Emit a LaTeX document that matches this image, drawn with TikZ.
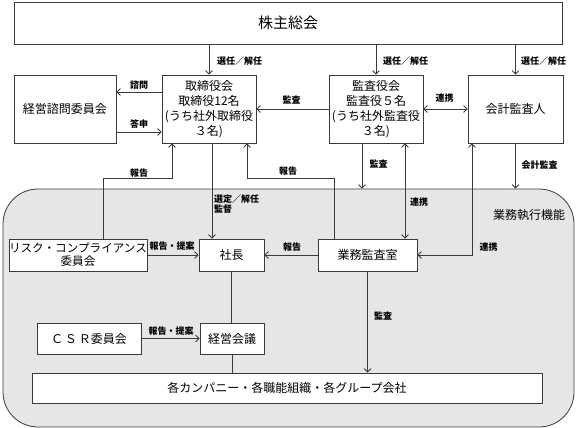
\documentclass[tikz,border=0pt]{standalone}
\usepackage{fontspec}
\setmainfont{Noto Sans CJK JP}
\usetikzlibrary{arrows.meta}
\definecolor{ln}{HTML}{3A3A3A}
\definecolor{regfill}{HTML}{E6E6E6}
\tikzset{
  box/.style={draw=ln, line width=0.8pt, fill=white, align=center, inner sep=0pt,
    font=\fontsize{12}{15}\selectfont},
  lab/.style={font=\fontsize{9}{10.5}\selectfont\bfseries, inner sep=0pt, text=black},
  con/.style={draw=ln, line width=0.8pt},
  arr/.style={con, -{Straight Barb[length=3.5pt,width=7pt]}},
  darr/.style={con, {Straight Barb[length=3.5pt,width=7pt]}-{Straight Barb[length=3.5pt,width=7pt]}},
}
\begin{document}
\begin{tikzpicture}[x=1pt,y=-1pt]
\useasboundingbox (0,0) rectangle (576,428);
% region
\node[draw=ln, line width=0.8pt, fill=regfill, rounded corners=35pt, minimum width=571pt, minimum height=238pt, inner sep=0pt] (region) at (288.5,308) {};
\node[lab, font=\fontsize{12}{14}\selectfont] (regl) at (529,215) {業務執行機能};

% top row
\node[box, minimum width=548pt, minimum height=42pt, font=\fontsize{15}{18}\selectfont] (share) at (288,23) {株主総会};
\node[box, minimum width=102pt, minimum height=68pt] (adv) at (65,109) {経営諮問委員会};
\node[box, minimum width=94pt, minimum height=68pt] (board) at (209,109) {取締役会\\取締役12名\\(うち社外取締役\\３名)};
\node[box, minimum width=94pt, minimum height=68pt] (kansa) at (376,109) {監査役会\\監査役５名\\(うち社外監査役\\３名)};
\node[box, minimum width=95pt, minimum height=68pt] (aud) at (515.5,109) {会計監査人};

% middle row
\node[box, minimum width=132pt, minimum height=32pt, font=\fontsize{11.6}{13}\selectfont] (risk) at (78,255) {リスク・コンプライアンス\\委員会};
\node[box, minimum width=65pt, minimum height=32pt] (pres) at (231.5,255) {社長};
\node[box, minimum width=99pt, minimum height=32pt] (ia) at (367.5,255) {業務監査室};

% lower rows
\node[box, minimum width=104pt, minimum height=31pt] (csr) at (89,338.5) {Ｃ\,Ｓ\,Ｒ委員会};
\node[box, minimum width=64pt, minimum height=31pt] (mgmt) at (232,338.5) {経営会議};
\node[box, minimum width=510pt, minimum height=30pt] (comp) at (287,388) {各カンパニー・各職能組織・各グループ会社};

% helper coordinates
\coordinate (cR1) at (103,178);
\coordinate (cR2) at (172,178);
\coordinate (cI1) at (334,178);
\coordinate (cI2) at (247,178);
\coordinate (cB) at (212,0);
\coordinate (cK) at (362,0);
\coordinate (cL) at (405,0);
\coordinate (cA) at (472,0);

% shareholders -> top row
\draw[arr] (share.south -| board) -- (board.north);
\draw[arr] (share.south -| kansa) -- (kansa.north);
\draw[arr] (share.south -| aud) -- (aud.north);
\node[lab, anchor=west] (l1) at (217,61) {選任／解任};
\node[lab, anchor=west] (l2) at (383,61) {選任／解任};
\node[lab, anchor=west] (l3) at (521,61) {選任／解任};

% board <-> advisory
\draw[arr] ([yshift=17pt]board.west) -- ([yshift=17pt]adv.east);
\draw[arr] ([yshift=-23pt]adv.east) -- ([yshift=-23pt]board.west);
\node[lab] (l4) at (139,85) {諮問};
\node[lab] (l5) at (139,124) {答申};

% kansa -> board, kansa <-> auditor
\draw[arr] (kansa.west) -- (board.east);
\node[lab] (l6) at (291.5,100) {監査};
\draw[darr] (kansa.east) -- (aud.west);
\node[lab] (l7) at (444.5,98) {連携};

% reports up to board
\draw[arr] (risk.north -| cR1) -- (cR1) -- (cR2) -- (board.south -| cR2);
\node[lab] (l8) at (139,173) {報告};
\draw[arr] (ia.north -| cI1) -- (cI1) -- (cI2) -- (board.south -| cI2);
\node[lab] (l9) at (288,171) {報告};

% board -> president
\draw[arr] (board.south -| cB) -- (pres.north -| cB);
\node[lab, anchor=west, align=left, font=\fontsize{9}{10.5}\selectfont\bfseries] (l10) at (214,204) {選定／解任\\監督};

% kansa audits down
\draw[arr] (kansa.south -| cK) -- (region.north -| cK);
\node[lab] (l11) at (378.5,164) {監査};
\draw[darr] (kansa.south -| cL) -- (ia.north -| cL);
\node[lab] (l12) at (419,202) {連携};

% auditor
\draw[arr] (aud.south) -- (region.north -| aud);
\node[lab] (l13) at (539.5,165) {会計監査};
\draw[darr] (aud.south -| cA) |- (ia.east);
\node[lab] (l14) at (488.5,247) {連携};

% into president
\draw[arr] (risk.east) -- (pres.west);
\node[lab] (l15) at (172,246) {報告・提案};
\draw[arr] (ia.west) -- (pres.east);
\node[lab] (l16) at (292,247) {報告};

% president -> mgmt -> companies
\draw[con] (pres.south) -- (mgmt.north -| pres);
\draw[con] (mgmt.south) -- (comp.north -| mgmt);
\draw[arr] (ia.south) -- (comp.north -| ia);
\node[lab] (l17) at (383,316) {監査};
\draw[arr] (csr.east) -- (mgmt.west);
\node[lab] (l18) at (171,331) {報告・提案};
\end{tikzpicture}
\end{document}
